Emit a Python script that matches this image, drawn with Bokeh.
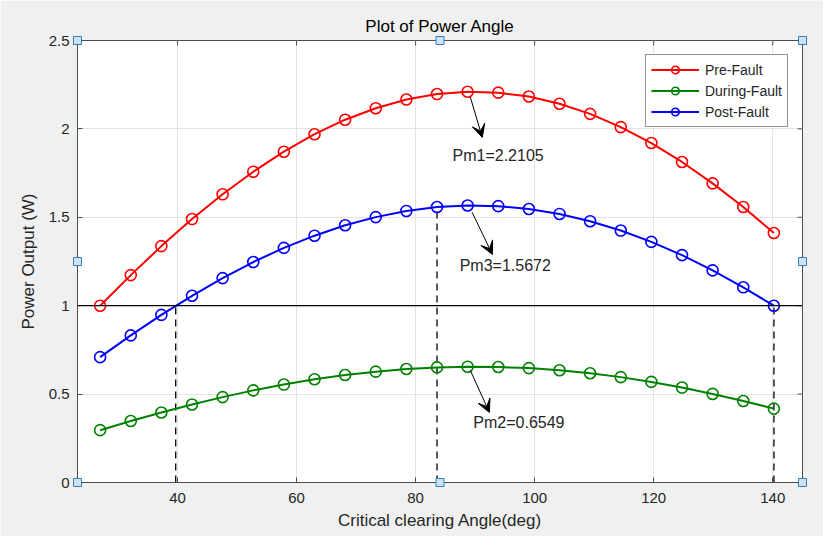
from bokeh.plotting import figure
from bokeh.models import (ColumnDataSource, Range1d, Span, Arrow,
                          VeeHead, Label, FixedTicker, Legend, LegendItem)
from bokeh.embed import file_html
from bokeh.resources import INLINE

# ---------------- data ----------------
angle_deg = [27.00, 32.15, 37.29, 42.44, 47.58, 52.73, 57.87, 63.02, 68.16, 73.31,
             78.45, 83.60, 88.74, 93.89, 99.03, 104.18, 109.32, 114.47, 119.61,
             124.76, 129.90, 135.05, 140.19]
pre_fault = [1.000, 1.173, 1.337, 1.490, 1.630, 1.758, 1.871, 1.970, 2.052, 2.117,
             2.166, 2.197, 2.210, 2.205, 2.183, 2.142, 2.085, 2.010, 1.920,
             1.813, 1.692, 1.558, 1.411]
during_fault = [0.296, 0.348, 0.396, 0.441, 0.483, 0.521, 0.554, 0.584, 0.608, 0.627,
                0.642, 0.651, 0.655, 0.653, 0.647, 0.635, 0.618, 0.596, 0.569,
                0.537, 0.501, 0.461, 0.418]
post_fault = [0.709, 0.832, 0.948, 1.056, 1.156, 1.247, 1.327, 1.396, 1.455, 1.501,
              1.536, 1.558, 1.567, 1.563, 1.547, 1.519, 1.478, 1.425, 1.361,
              1.286, 1.200, 1.104, 1.000]

series_names = ["Pre-Fault", "During-Fault", "Post-Fault"]
series_colors = ["#ff0000", "#008000", "#0000ff"]

x_ticks = [40, 60, 80, 100, 120, 140]
x_tick_labels = ["40", "60", "80", "100", "120", "140"]
y_ticks = [0, 0.5, 1, 1.5, 2, 2.5]
y_tick_labels = ["0", "0.5", "1", "1.5", "2", "2.5"]
x_limits = [23.2, 145.0]
y_limits = [0.0, 2.5]

reference_power = 1.0
dashed_x = [39.7, 83.6, 140.2]
dashed_top = [1.0, 1.558, 1.0]

annot_text = ["Pm1=2.2105", "Pm2=0.6549", "Pm3=1.5672"]
annot_x = [86.2, 89.7, 87.4]
annot_y = [1.851, 0.340, 1.228]
arrow_x_start = [89.2, 89.2, 89.5]
arrow_y_start = [2.179, 0.634, 1.528]
arrow_x_end = [91.2, 92.4, 92.9]
arrow_y_end = [1.952, 0.396, 1.290]

FONT = "Liberation Sans"
TXT = "#262626"
AX = "#4d4d4d"

FRAME_W, FRAME_H = 725, 442
TICK_PX = 5

p = figure(width=823, height=536, output_backend="svg", toolbar_location=None,
           x_range=Range1d(*x_limits), y_range=Range1d(*y_limits),
           min_border_left=77, min_border_right=21, min_border_top=40,
           min_border_bottom=54, title="Plot of Power Angle")

p.border_fill_color = "#f0f0f0"
p.background_fill_color = "white"
p.outline_line_color = AX
p.outline_line_width = 1

p.title.align = "center"
p.title.text_font = FONT
p.title.text_font_size = "17px"
p.title.text_font_style = "normal"
p.title.text_color = "black"
p.title.standoff = 9

# axes
for ax in (p.xaxis[0], p.yaxis[0]):
    ax.major_tick_in = TICK_PX
    ax.major_tick_out = 0
    ax.minor_tick_line_color = None
    ax.axis_line_color = AX
    ax.major_tick_line_color = AX
    ax.major_label_text_font = FONT
    ax.major_label_text_font_size = "15px"
    ax.major_label_text_color = TXT
    ax.axis_label_text_font = FONT
    ax.axis_label_text_font_size = "17px"
    ax.axis_label_text_font_style = "normal"
    ax.axis_label_text_color = TXT

p.xaxis[0].ticker = FixedTicker(ticks=x_ticks)
p.xaxis[0].major_label_overrides = dict(zip(x_ticks, x_tick_labels))
p.yaxis[0].ticker = FixedTicker(ticks=y_ticks)
p.yaxis[0].major_label_overrides = {t: l for t, l in zip(y_ticks, y_tick_labels)}
p.xaxis[0].axis_label = "Critical clearing Angle(deg)"
p.yaxis[0].axis_label = "Power Output (W)"
p.xaxis[0].major_label_standoff = 10
p.xaxis[0].axis_label_standoff = 5
p.yaxis[0].major_label_standoff = 8
p.yaxis[0].axis_label_standoff = 8

p.xgrid.ticker = FixedTicker(ticks=x_ticks)
p.ygrid.ticker = FixedTicker(ticks=y_ticks)
p.grid.grid_line_color = "#e3e3e3"
p.grid.grid_line_width = 1

# inward tick marks on the top and right edges of the box
dy_tick = (y_limits[1] - y_limits[0]) * TICK_PX / FRAME_H
dx_tick = (x_limits[1] - x_limits[0]) * TICK_PX / FRAME_W
p.segment(x0=x_ticks, x1=x_ticks, y0=[y_limits[1]] * len(x_ticks),
          y1=[y_limits[1] - dy_tick] * len(x_ticks), line_color=AX, line_width=1)
p.segment(x0=[x_limits[1]] * len(y_ticks), x1=[x_limits[1] - dx_tick] * len(y_ticks),
          y0=y_ticks, y1=y_ticks, line_color=AX, line_width=1)

# reference line and dashed lines
p.add_layout(Span(location=reference_power, dimension="width", line_color="black",
                  line_width=1.3))
dsrc = ColumnDataSource(dict(x=dashed_x, top=dashed_top, bottom=[0.0] * len(dashed_x)))
p.segment(x0="x", y0="bottom", x1="x", y1="top", source=dsrc, line_color="black",
          line_width=1.3, line_dash="7 5")

# curves
src = ColumnDataSource(dict(x=angle_deg, pre=pre_fault, dur=during_fault, post=post_fault))
items = []
for col, name, color in zip(["pre", "dur", "post"], series_names, series_colors):
    r1 = p.line("x", col, source=src, line_color=color, line_width=2)
    r2 = p.scatter("x", col, source=src, marker="circle", size=11, fill_color=None,
                   line_color=color, line_width=1.6)
    items.append(LegendItem(label=name, renderers=[r1, r2]))

legend = Legend(items=items, location="top_right")
legend.margin = 14
legend.padding = 5
legend.spacing = 2
legend.glyph_width = 48
legend.glyph_height = 19
legend.label_height = 19
legend.label_standoff = 6
legend.label_text_font = FONT
legend.label_text_font_size = "14px"
legend.label_text_color = TXT
legend.border_line_color = TXT
legend.border_line_width = 1
legend.background_fill_color = "white"
legend.background_fill_alpha = 1
p.add_layout(legend, "center")

# annotations
for tx, xx, yy in zip(annot_text, annot_x, annot_y):
    p.add_layout(Label(x=xx, y=yy, text=tx, text_font=FONT, text_font_size="16px",
                       text_color=TXT, text_baseline="middle", text_align="left"))
for xs, ys, xe, ye in zip(arrow_x_start, arrow_y_start, arrow_x_end, arrow_y_end):
    p.add_layout(Arrow(x_start=xs, y_start=ys, x_end=xe, y_end=ye, line_color="black",
                       line_width=1,
                       end=VeeHead(size=13, fill_color="black", line_color="black")))

# MATLAB edit-mode selection handles at axes corners/mid-points
xmid = (x_limits[0] + x_limits[1]) / 2
ymid = (y_limits[0] + y_limits[1]) / 2
hx = [x_limits[0], xmid, x_limits[1], x_limits[0], x_limits[1], x_limits[0], xmid, x_limits[1]]
hy = [y_limits[1], y_limits[1], y_limits[1], ymid, ymid, y_limits[0], y_limits[0], y_limits[0]]
hr = p.scatter(hx, hy, marker="square", size=8, fill_color="#cfe2f3",
               line_color="#2f7fc1", line_width=1)
hr.level = "overlay"

open("out.html", "w").write(file_html(p, INLINE))
